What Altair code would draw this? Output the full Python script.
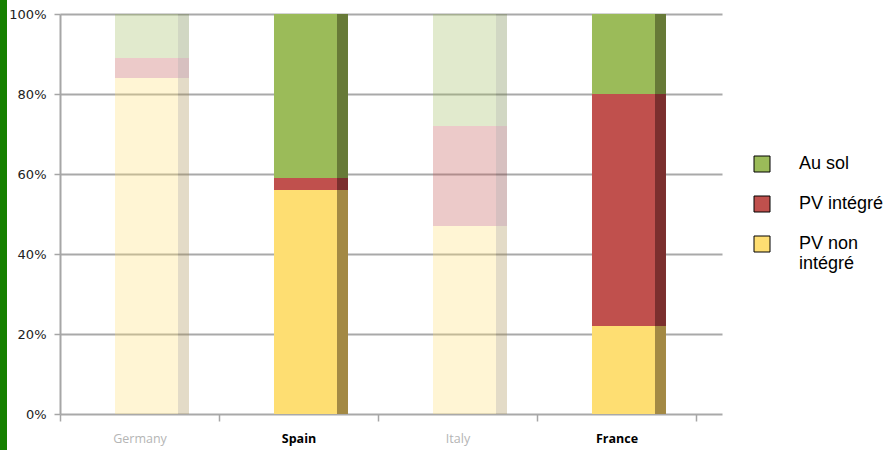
import altair as alt
import pandas as pd

# Share of PV installations by type, per country (percent)
countries = ["Germany", "Spain", "Italy", "France"]
series = ["Au sol", "PV intégré", "PV non intégré"]
au_sol = [11, 41, 28, 20]
pv_integre = [5, 3, 25, 58]
pv_non_integre = [84, 56, 47, 22]
highlighted = ["Spain", "France"]

front_colors = ["#9bbb59", "#c0504d", "#fede72"]
side_colors = ["#677a37", "#7b2f2e", "#a38944"]

values = {"Au sol": au_sol, "PV intégré": pv_integre, "PV non intégré": pv_non_integre}
stack_rank = {"PV non intégré": 0, "PV intégré": 1, "Au sol": 2}

rows = []
for i, c in enumerate(countries):
    for s, side in zip(series, side_colors):
        rows.append({
            "country": c,
            "series": s,
            "value": values[s][i],
            "rank": stack_rank[s],
            "alpha": 1.0 if c in highlighted else 0.3,
            "side": side,
        })
df = pd.DataFrame(rows)

# bands fill the left part of the view; the spare outer padding sits on the right
x_enc = alt.X(
    "country:N",
    sort=countries,
    scale=alt.Scale(paddingInner=0, paddingOuter=0.0818, align=0),
    axis=alt.Axis(
        title=None,
        domain=False,
        grid=False,
        labelAngle=0,
        tickBand="extent",
        tickSize=7,
        tickColor="#a6a6a6",
        tickWidth=1.5,
        labelPadding=11,
        labelFont="Open Sans",
        labelFontSize=12.5,
        labelColor=alt.expr("indexof(['Spain','France'], datum.value) >= 0 ? '#000000' : '#b5b5b5'"),
        labelFontWeight=alt.expr("indexof(['Spain','France'], datum.value) >= 0 ? 'bold' : 'normal'"),
    ),
)

y_enc = alt.Y(
    "value:Q",
    stack="zero",
    scale=alt.Scale(domain=[0, 100], nice=False),
    axis=alt.Axis(
        title=None,
        values=[0, 20, 40, 60, 80, 100],
        labelExpr="datum.value + '%'",
        labelFont="DejaVu Sans",
        labelFontSize=13,
        labelColor="#222222",
        labelPadding=8,
        domainColor="#a6a6a6",
        domainWidth=2,
        tickColor="#a6a6a6",
        tickWidth=1.5,
        tickSize=6,
        gridColor="#a9a9a9",
        gridWidth=2,
    ),
)

base = alt.Chart(df)

front = base.mark_bar(width=63, xOffset=7).encode(
    x=x_enc,
    y=y_enc,
    order=alt.Order("rank:Q"),
    color=alt.Color(
        "series:N",
        scale=alt.Scale(domain=series, range=front_colors),
        legend=alt.Legend(
            title=None,
            orient="none",
            legendX=693,
            legendY=141,
            symbolType="square",
            symbolSize=256,
            symbolStrokeColor="#000000",
            symbolStrokeWidth=1,
            symbolOpacity=1,
            labelFont="Liberation Sans",
            labelFontSize=18,
            labelColor="#000000",
            labelOffset=28,
            labelLimit=200,
            rowPadding=20,
            labelExpr="datum.label == 'PV non intégré' ? ['PV non', 'intégré'] : datum.label",
        ),
    ),
    opacity=alt.Opacity("alpha:Q", scale=None),
)

side = base.mark_bar(width=11, xOffset=44).encode(
    x=x_enc,
    y=y_enc,
    order=alt.Order("rank:Q"),
    color=alt.Color("side:N", scale=None),
    opacity=alt.Opacity("alpha:Q", scale=None),
)

# green accent strip along the left edge of the slide
strip = alt.Chart(pd.DataFrame({"k": [0]})).mark_rect(color="#158000").encode(
    x=alt.value(-60), x2=alt.value(-53), y=alt.value(-14), y2=alt.value(436)
)

chart = alt.layer(front, side, strip).properties(
    width=662,
    height=400,
    autosize=alt.AutoSizeParams(type="none"),
    padding={"left": 60, "top": 14, "right": 167, "bottom": 36},
).configure_view(stroke=None)

chart.save("out.html", embed_options={"renderer": "svg", "actions": False})
